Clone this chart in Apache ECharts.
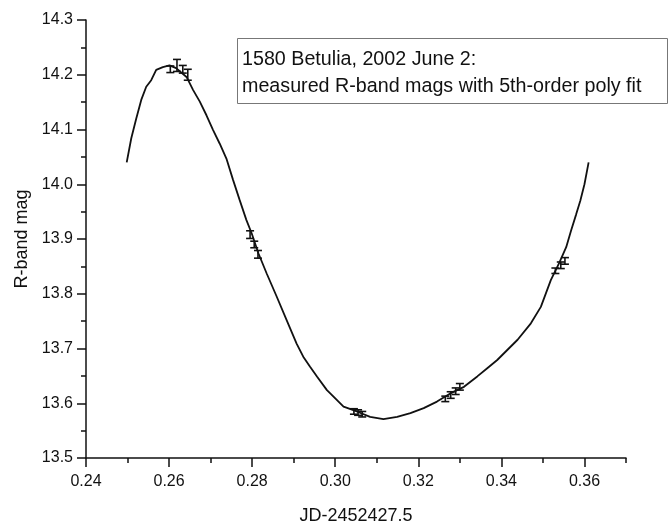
<!DOCTYPE html>
<html>
<head>
<meta charset="utf-8">
<script src="https://cdn.jsdelivr.net/npm/echarts@6/dist/echarts.min.js"></script>
<style>
html,body{margin:0;padding:0;background:#fff;}
#chart{width:670px;height:524px;}
</style>
</head>
<body>
<div id="chart"></div>
<script>
// Fitted light curve (JD-2452427.5, R-band mag)
const curveX = [0.2498,0.2509,0.2521,0.2533,0.2545,0.2557,0.2569,0.2585,0.2601,0.2617,0.2642,0.2658,0.2674,0.2690,0.2706,0.2722,0.2738,0.2754,0.2770,0.2786,0.2799,0.2815,0.2835,0.2859,0.2883,0.2907,0.2923,0.2939,0.2956,0.2980,0.2988,0.3020,0.3052,0.3084,0.3116,0.3149,0.3181,0.3213,0.3245,0.3277,0.3310,0.3342,0.3366,0.3390,0.3439,0.3471,0.3495,0.3519,0.3539,0.3556,0.3568,0.3580,0.3590,0.3600,0.3610];
const curveY = [14.040,14.084,14.120,14.154,14.178,14.190,14.209,14.214,14.217,14.212,14.196,14.172,14.151,14.126,14.099,14.074,14.047,14.008,13.971,13.935,13.910,13.874,13.837,13.795,13.752,13.709,13.685,13.667,13.649,13.624,13.618,13.594,13.585,13.575,13.571,13.575,13.582,13.591,13.603,13.618,13.630,13.649,13.664,13.679,13.716,13.746,13.776,13.825,13.856,13.885,13.916,13.945,13.970,14.000,14.040];
// Measured points with error bars
const measX = [0.2603,0.2619,0.2633,0.2645,0.2795,0.2805,0.2814,0.3045,0.3055,0.3065,0.3265,0.3278,0.3290,0.3300,0.3530,0.3543,0.3553];
const measY = [14.210,14.217,14.210,14.200,13.908,13.890,13.872,13.585,13.583,13.580,13.608,13.615,13.622,13.630,13.842,13.852,13.860];
const measErr = [0.006,0.011,0.007,0.010,0.007,0.006,0.007,0.005,0.005,0.005,0.005,0.006,0.006,0.006,0.005,0.006,0.006];
// Axis ticks
const xMajorTicks = [0.24,0.26,0.28,0.30,0.32,0.34,0.36];
const xMinorTicks = [0.25,0.27,0.29,0.31,0.33,0.35,0.37];
const legendLines = ['1580 Betulia, 2002 June 2:', 'measured R-band mags with 5th-order poly fit'];

const chart = echarts.init(document.getElementById('chart'), null, {renderer: 'canvas'});
const FONT = 'Liberation Sans, Arial, sans-serif';
const INK = '#111';

const curveData = curveX.map((x, i) => [x, curveY[i]]);
const measData = measX.map((x, i) => [x, measY[i], measErr[i]]);

const option = {
  backgroundColor: '#fff',
  animation: false,
  grid: {left: 86, right: 44, top: 20, bottom: 66, containLabel: false, outerBoundsMode: 'none'},
  xAxis: [{
    type: 'value', min: 0.24, max: 0.37, position: 'bottom',
    name: 'JD-2452427.5', nameLocation: 'middle', nameGap: 49,
    nameTextStyle: {fontFamily: FONT, fontSize: 18, color: INK},
    axisLine: {show: true, onZero: false, lineStyle: {color: INK, width: 1.5}},
    axisTick: {show: true, inside: false, length: 9, customValues: xMajorTicks, lineStyle: {color: INK, width: 1.5}},
    axisLabel: {customValues: xMajorTicks, margin: 16, fontFamily: FONT, fontSize: 16, color: INK,
      formatter: v => v.toFixed(2)},
    splitLine: {show: false}
  }, {
    type: 'value', min: 0.24, max: 0.37, position: 'bottom',
    axisLine: {show: false, onZero: false},
    axisTick: {show: true, inside: false, length: 5, customValues: xMinorTicks, lineStyle: {color: INK, width: 1.5}},
    axisLabel: {show: false},
    splitLine: {show: false}
  }],
  yAxis: {
    type: 'value', min: 13.5, max: 14.3, interval: 0.1,
    name: 'R-band mag', nameLocation: 'middle', nameGap: 54,
    nameTextStyle: {fontFamily: FONT, fontSize: 18, color: INK},
    axisLine: {show: true, onZero: false, lineStyle: {color: INK, width: 1.5}},
    axisTick: {show: true, inside: false, length: 9, lineStyle: {color: INK, width: 1.5}},
    minorTick: {show: true, splitNumber: 2, length: 5, lineStyle: {color: INK, width: 1.5}},
    axisLabel: {margin: 13, fontFamily: FONT, fontSize: 16, color: INK, formatter: v => v.toFixed(1)},
    splitLine: {show: false},
    minorSplitLine: {show: false}
  },
  graphic: [{
    type: 'rect', left: 237, top: 38, z: 10,
    shape: {width: 430, height: 65},
    style: {fill: '#fff', stroke: '#777', lineWidth: 1}
  }, {
    type: 'text', left: 242, top: 50, z: 11,
    style: {text: legendLines[0], font: '19.7px ' + FONT, fill: INK}
  }, {
    type: 'text', left: 242, top: 77, z: 11,
    style: {text: legendLines[1], font: '19.7px ' + FONT, fill: INK}
  }],
  series: [{
    type: 'line', xAxisIndex: 0, data: curveData, showSymbol: false, symbol: 'none',
    lineStyle: {color: INK, width: 1.8}, smooth: false, z: 2
  }, {
    type: 'custom', xAxisIndex: 0, data: measData, z: 3,
    renderItem: function (params, api) {
      const x = api.value(0), y = api.value(1), e = api.value(2);
      const top = api.coord([x, y - e]);
      const bot = api.coord([x, y + e]);
      const hw = 4;
      const st = {stroke: INK, lineWidth: 1.6};
      return {type: 'group', children: [
        {type: 'line', shape: {x1: top[0], y1: top[1], x2: bot[0], y2: bot[1]}, style: st},
        {type: 'line', shape: {x1: top[0] - hw, y1: top[1], x2: top[0] + hw, y2: top[1]}, style: st},
        {type: 'line', shape: {x1: bot[0] - hw, y1: bot[1], x2: bot[0] + hw, y2: bot[1]}, style: st}
      ]};
    }
  }]
};
chart.setOption(option);
</script>
</body>
</html>
